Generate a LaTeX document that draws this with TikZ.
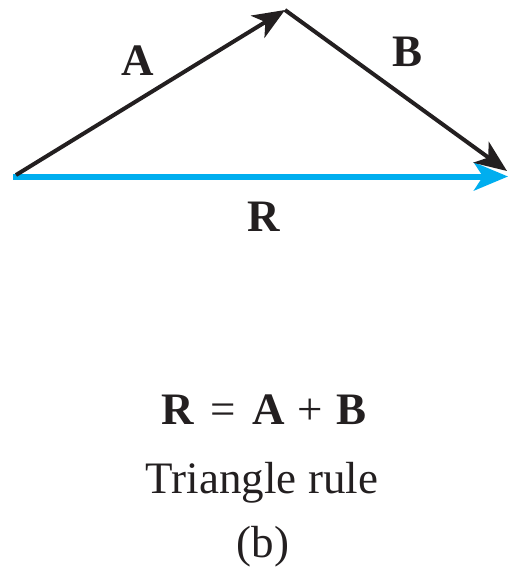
\documentclass[tikz,border=0pt]{standalone}
\usepackage{fontspec}
\setmainfont{Liberation Serif}
\usetikzlibrary{arrows.meta}
\definecolor{rblue}{RGB}{0,174,239}
\definecolor{ink}{RGB}{35,31,32}
\begin{document}
\begin{tikzpicture}[x=1pt,y=-1pt,
  vec/.style={line width=4pt,draw=ink,-{Stealth[length=32pt,width=26pt,inset=9pt]}},
  rvec/.style={line width=6pt,draw=rblue,-{Stealth[length=34pt,width=28pt,inset=9pt]}},
  lbl/.style={font=\fontsize{45}{54}\selectfont\bfseries,text=ink,inner sep=0pt},
  captext/.style={font=\fontsize{45}{54}\selectfont,text=ink,inner sep=0pt,anchor=base}]
\useasboundingbox (0,0) rectangle (508,567);
\coordinate (O) at (16,175);
\coordinate (P) at (285,10);
\coordinate (Q) at (507,171);
\coordinate (R0) at (13,176.5);
\coordinate (R1) at (508,176.5);
\draw[rvec] (R0) -- (R1);
\draw[vec] (O) -- (P);
\draw[vec] (P) -- (Q);
\node[lbl] (la) at (138,61) {A};
\node[lbl] (lb) at (408,52) {B};
\node[lbl] (lr) at (264,217) {R};
\node[captext] (eq) at (264,424) {\textbf{R}\hspace{5pt} =\hspace{5pt} \textbf{A}\hspace{2pt} +\hspace{2pt} \textbf{B}};
\node[captext] (tr) at (262,493) {Triangle rule};
\node[captext] (b) at (263,557) {(b)};
\end{tikzpicture}
\end{document}
